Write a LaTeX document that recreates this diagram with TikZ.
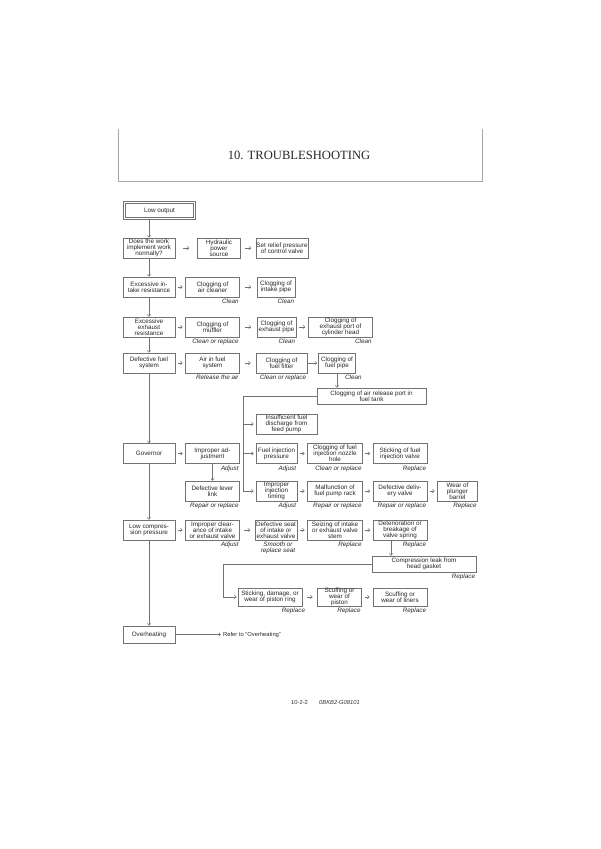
\documentclass[tikz,border=0pt]{standalone}
\usepackage{fontspec}
\setmainfont{Liberation Sans}
\newfontfamily\titlefont{Liberation Serif}
\usetikzlibrary{
		positioning,
		arrows.meta
	}
\tikzset{
		>={Straight Barb[length=2pt,width=3.4pt]}
	}

\begin{document}
\begin{tikzpicture}[x=1pt,y=-1pt,node distance=10pt,
		hop/.style={line,->,shorten <=#1,shorten >=#1}]
	\tikzstyle{point}=[coordinate]
	\tikzstyle{line}=[draw=black!55, line width=0.5pt]
	\tikzstyle{block}=[draw=black!55, line width=0.5pt, rectangle, inner sep=0pt, minimum height=20pt, minimum width=54pt, align=center, text=black!85, font=\fontsize{6.3}{6.2}\selectfont]
	\tikzstyle{remedy}=[anchor=north east, inner sep=0pt, xshift=-1pt, yshift=-1.5pt, text=black!85, font=\fontsize{6.3}{6.2}\selectfont\itshape]
	\useasboundingbox (0,0) rectangle (600,849);
	% Header
	\draw [draw=black!35, line width=0.8pt] (118,129) -- (118,181) -- (482,181) -- (482,129);
	\node (title) at (299,155) {\titlefont\fontsize{12.6}{13}\selectfont\color{black!85}10. TROUBLESHOOTING};
	% Main column
	\node[block, minimum width=70pt, minimum height=16pt, double=white, double distance=1.4pt] (lowout) at (159.5,210.5) {Low output};
	\node[block, minimum width=52pt] (works)    at (149,248)   {Does the work\\implement work\\normally?};
	\node[block, minimum width=52pt] (intake)   at (149,287)   {Excessive in-\\take resistance};
	\node[block, minimum width=52pt] (exhaust)  at (149,327)   {Excessive\\exhaust\\resistance};
	\node[block, minimum width=52pt] (fuel)     at (149,363)   {Defective fuel\\system};
	\node[block, minimum width=52pt] (governor) at (149,453.5) {Governor};
	\node[block, minimum width=52pt] (lowcomp)  at (149,530)   {Low compres-\\sion pressure};
	\node[block, minimum width=52pt, minimum height=17pt] (overheat) at (149,634.5) {Overheating};
	\node[anchor=west, inner sep=0pt, text=black!85, font=\fontsize{5.8}{6}\selectfont] (refer) at (223,634.5) {Refer to “Overheating”};
	% Row: work implement
	\node[block, minimum width=43pt] (hydraulic) [right=22pt of works]     {Hydraulic\\power\\source};
	\node[block, minimum width=52pt] (relief)    [right=15pt of hydraulic] {Set relief pressure\\of control valve};
	% Row: intake
	\node[block]                     (cleaner)    [right=of intake]       {Clogging of\\air cleaner};
	\node[block, minimum width=38pt] (intakepipe) [right=17pt of cleaner] {Clogging of\\intake pipe};
	% Row: exhaust
	\node[block]                     (muffler) [right=of exhaust]      {Clogging of\\muffler};
	\node[block, minimum width=39pt] (exhpipe) [right=17pt of muffler] {Clogging of\\exhaust pipe};
	\node[block, minimum width=64pt] (exhport) [right=12pt of exhpipe] {Clogging of\\exhaust port of\\cylinder head};
	% Row: fuel system
	\node[block]                     (airin)    [right=of fuel]        {Air in fuel\\system};
	\node[block, minimum width=51pt] (filter)   [right=16pt of airin]  {Clogging of\\fuel filter};
	\node[block, minimum width=37pt] (fuelpipe) [right=11pt of filter] {Clogging of\\fuel pipe};
	\node[block, minimum width=109pt, minimum height=16pt] (airport) at (371.5,396) {Clogging of air release port in\\fuel tank};
	\node[block, minimum width=61pt] (feed) at (286.5,424) {Insufficient fuel\\discharge from\\feed pump};
	% Row: governor
	\node[block]                     (adjust)   [right=of governor]     {Improper ad-\\justment};
	\node[block, minimum width=41pt] (pressure) [right=16pt of adjust]  {Fuel injection\\pressure};
	\node[block, minimum width=55pt] (nozzle)   [right=of pressure]     {Clogging of fuel\\injection nozzle\\hole};
	\node[block]                     (sticking) [right=of nozzle]       {Sticking of fuel\\injection valve};
	\node[block]                     (lever)    [below=17pt of adjust]  {Defective lever\\link};
	\node[block, minimum width=41pt] (timing)   [right=16pt of lever]   {Improper\\injection\\timing};
	\node[block, minimum width=55pt] (rack)     [right=of timing]       {Malfunction of\\fuel pump rack};
	\node[block]                     (delivery) [right=of rack]         {Defective deliv-\\ery valve};
	\node[block, minimum width=40pt] (plunger)  [right=of delivery]     {Wear of\\plunger\\barrel};
	\node[point]                     (bus)      [left=13pt of timing]   {};
	% Row: compression
	\node[block]                     (clearance) [right=of lowcomp]       {Improper clear-\\ance of intake\\or exhaust valve};
	\node[block, minimum width=42pt] (seat)      [right=15pt of clearance] {Defective seat\\of intake or\\exhaust valve};
	\node[block, minimum width=55pt] (seizing)   [right=of seat]          {Seizing of intake\\or exhaust valve\\stem};
	\node[block]                     (spring)    [right=of seizing]       {Deterioration or\\breakage of\\valve spring};
	\node[block, minimum width=104pt, minimum height=16pt] (gasket) at (424,564) {Compression leak from\\head gasket};
	\node[block, minimum width=64pt, minimum height=18pt] (ring)   at (270,597)           {Sticking, damage, or\\wear of piston ring};
	\node[block, minimum width=44pt, minimum height=18pt] (piston) [right=15pt of ring]   {Scuffing or\\wear of\\piston};
	\node[block, minimum height=18pt]                     (liners) [right=11pt of piston] {Scuffing or\\wear of liners};
	\node[point]                     (drop)      [left=15pt of ring]      {};
	% Remedies
	\node[remedy] (rm1)  at (cleaner.south east)    {Clean};
	\node[remedy] (rm2)  at (intakepipe.south east) {Clean};
	\node[remedy] (rm3)  at (muffler.south east)    {Clean or replace};
	\node[remedy] (rm4)  at (exhpipe.south east)    {Clean};
	\node[remedy] (rm5)  at (exhport.south east)    {Clean};
	\node[remedy] (rm6)  at (airin.south east)      {Release the air};
	\node[remedy] (rm7)  at (filter.south east)     {Clean or replace};
	\node[remedy] (rm8)  at ([xshift=7pt]fuelpipe.south east) {Clean};
	\node[remedy] (rm9)  at (adjust.south east)     {Adjust};
	\node[remedy] (rm10) at (pressure.south east)   {Adjust};
	\node[remedy] (rm11) at (nozzle.south east)     {Clean or replace};
	\node[remedy] (rm12) at (sticking.south east)   {Replace};
	\node[remedy] (rm13) at (lever.south east)      {Repair or replace};
	\node[remedy] (rm14) at (timing.south east)     {Adjust};
	\node[remedy] (rm15) at (rack.south east)       {Repair or replace};
	\node[remedy] (rm16) at (delivery.south east)   {Repair or replace};
	\node[remedy] (rm17) at (plunger.south east)    {Replace};
	\node[remedy] (rm18) at (clearance.south east)  {Adjust};
	\node[remedy, anchor=north, align=center] (rm19) at ([xshift=3pt]seat.south) {Smooth or\\replace seat};
	\node[remedy] (rm20) at (seizing.south east)    {Replace};
	\node[remedy] (rm21) at (spring.south east)     {Replace};
	\node[remedy] (rm22) at (gasket.south east)     {Replace};
	\node[remedy] (rm23) at ([xshift=4pt]ring.south east) {Replace};
	\node[remedy] (rm24) at (piston.south east)     {Replace};
	\node[remedy] (rm25) at (liners.south east)     {Replace};
	% Footer
	\node[anchor=west, inner sep=0pt, text=black!80, font=\fontsize{5.8}{6}\selectfont] (pageno) at (291,702) {10-2-2};
	\node[anchor=west, inner sep=0pt, text=black!80, font=\fontsize{5.8}{6}\selectfont\itshape] (docno) at (319,702) {0BKB2-G08101};
	% Main column arrows
	\draw [line,->] (lowout.south -| works.north) -- (works.north);
	\draw [line,->] (works.south) -- (intake.north);
	\draw [line,->] (intake.south) -- (exhaust.north);
	\draw [line,->] (exhaust.south) -- (fuel.north);
	\draw [line,->] (fuel.south) -- (governor.north);
	\draw [line,->] (governor.south) -- (lowcomp.north);
	\draw [line,->] (lowcomp.south) -- (overheat.north);
	\draw [line,->,shorten >=2pt] (overheat.east) -- (refer.west);
	% Short arrows between boxes
	\draw [hop=8pt]   (works) -- (hydraulic);
	\draw [hop=4.5pt] (hydraulic) -- (relief);
	\draw [hop=2.5pt] (intake) -- (cleaner);
	\draw [hop=5.5pt] (cleaner) -- (intakepipe);
	\draw [hop=2.5pt] (exhaust) -- (muffler);
	\draw [hop=5.5pt] (muffler) -- (exhpipe);
	\draw [hop=3pt]   (exhpipe) -- (exhport);
	\draw [hop=2.5pt] (fuel) -- (airin);
	\draw [hop=5pt]   (airin) -- (filter);
	\draw [hop=1pt]   (filter) -- (fuelpipe);
	\draw [hop=2.5pt] (governor) -- (adjust);
	\draw [hop=2.5pt] (pressure) -- (nozzle);
	\draw [hop=2.5pt] (nozzle) -- (sticking);
	\draw [hop=2.5pt] (timing) -- (rack);
	\draw [hop=2.5pt] (rack) -- (delivery);
	\draw [hop=2.5pt] (delivery) -- (plunger);
	\draw [hop=2.5pt] (lowcomp) -- (clearance);
	\draw [hop=4.5pt] (clearance) -- (seat);
	\draw [hop=2.5pt] (seat) -- (seizing);
	\draw [hop=2.5pt] (seizing) -- (spring);
	\draw [hop=4.5pt] (ring) -- (piston);
	\draw [hop=3pt]   (piston) -- (liners);
	% Down arrows and branches
	\draw [line,->] (fuelpipe.south) -- (fuelpipe.south |- airport.north);
	\draw [line,->] (adjust.south) -- (lever.north);
	\draw [line,->] ([xshift=-9pt]spring.south) -- ([xshift=-9pt]spring.south |- gasket.north);
	\draw [line,->,shorten >=2pt] (airport.west) -| (bus) -- (timing.west);
	\draw [line,->,shorten >=2pt] (bus |- feed.west) -- (feed.west);
	\draw [line,->,shorten >=2pt] (bus |- pressure.west) -- (pressure.west);
	\draw [line,->,shorten >=1pt] (gasket.west) -| (drop) -- (ring.west);
\end{tikzpicture}
\end{document}
